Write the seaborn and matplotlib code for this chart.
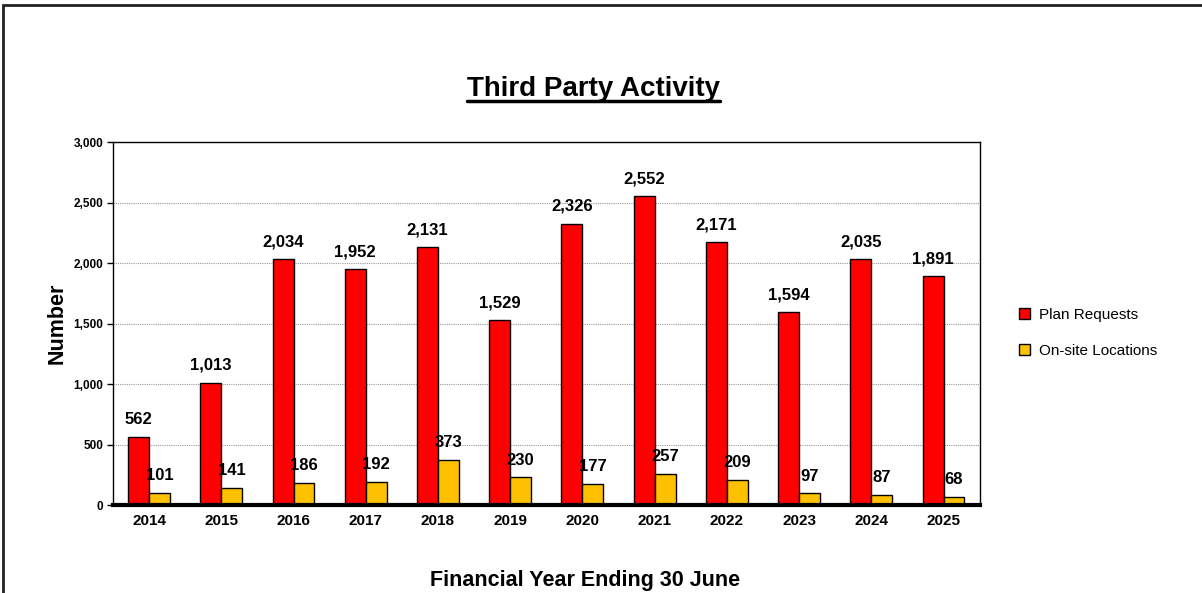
import pandas as pd
import matplotlib.pyplot as plt
import seaborn as sns
from matplotlib.lines import Line2D
from matplotlib.patches import Rectangle
from matplotlib.ticker import FuncFormatter

years = ["2014", "2015", "2016", "2017", "2018", "2019",
         "2020", "2021", "2022", "2023", "2024", "2025"]
plan_requests = [562, 1013, 2034, 1952, 2131, 1529, 2326, 2552, 2171, 1594, 2035, 1891]
onsite_locations = [101, 141, 186, 192, 373, 230, 177, 257, 209, 97, 87, 68]
series_names = ["Plan Requests", "On-site Locations"]
colors = ["#FF0000", "#FFC000"]

df = pd.DataFrame({
    "year": years * 2,
    "value": plan_requests + onsite_locations,
    "series": [series_names[0]] * len(years) + [series_names[1]] * len(years),
})

sns.set_theme(style="white")
plt.rcParams["font.family"] = ["Liberation Sans", "DejaVu Sans"]
plt.rcParams["text.color"] = "black"
plt.rcParams["axes.labelcolor"] = "black"
plt.rcParams["xtick.color"] = "black"
plt.rcParams["ytick.color"] = "black"

fig = plt.figure(figsize=(12.02, 5.93), dpi=100)
ax = fig.add_axes([0.094, 0.148, 0.721, 0.6125])

sns.barplot(data=df, x="year", y="value", hue="series", palette=colors,
            width=0.58, edgecolor="black", linewidth=1, saturation=1,
            ax=ax, legend=True)

for cont in ax.containers:
    ax.bar_label(cont, labels=[f"{int(v):,}" for v in cont.datavalues],
                 padding=7, fontsize=12, fontweight="bold", color="black")

ax.set_ylim(0, 3000)
ax.set_yticks(range(0, 3001, 500))
ax.yaxis.set_major_formatter(FuncFormatter(lambda v, p: f"{int(v):,}"))
ax.yaxis.grid(True, linestyle=(0, (1, 1)), color="#999999", linewidth=0.8)
ax.set_axisbelow(True)
ax.tick_params(axis="y", which="major", left=True, length=4, width=1,
               labelsize=8.5, pad=3)
ax.tick_params(axis="x", length=0, labelsize=11, pad=6)
for lab in ax.get_yticklabels() + ax.get_xticklabels():
    lab.set_fontweight("bold")

for side in ["left", "right", "top"]:
    ax.spines[side].set_color("black")
    ax.spines[side].set_linewidth(1)
ax.spines["bottom"].set_color("black")
ax.spines["bottom"].set_linewidth(3)

ax.set_xlabel("")
ax.set_ylabel("Number", fontsize=15.5, fontweight="bold", labelpad=4)
fig.text(0.487, 0.012, "Financial Year Ending 30 June", ha="center",
         va="baseline", fontsize=15.5, fontweight="bold")

title = fig.text(0.494, 0.838, "Third Party Activity", ha="center",
                 va="baseline", fontsize=20, fontweight="bold")

leg = ax.legend(loc="center left", bbox_to_anchor=(1.03, 0.475), frameon=False,
                fontsize=11, handlelength=0.7, handleheight=0.7,
                labelspacing=1.45, handletextpad=0.6)

# underline the title
fig.canvas.draw()
bb = title.get_window_extent().transformed(fig.transFigure.inverted())
fig.add_artist(Line2D([bb.x0, bb.x1], [0.830, 0.830], color="black",
                      linewidth=2.5, transform=fig.transFigure))

# chart frame (partially cropped in the original)
fig.add_artist(Rectangle((3 / 1202, -0.2), 1.5, (588 / 593) + 0.2,
                         fill=False, edgecolor="#222222", linewidth=2,
                         transform=fig.transFigure))

fig.savefig("out.png", dpi=100)
